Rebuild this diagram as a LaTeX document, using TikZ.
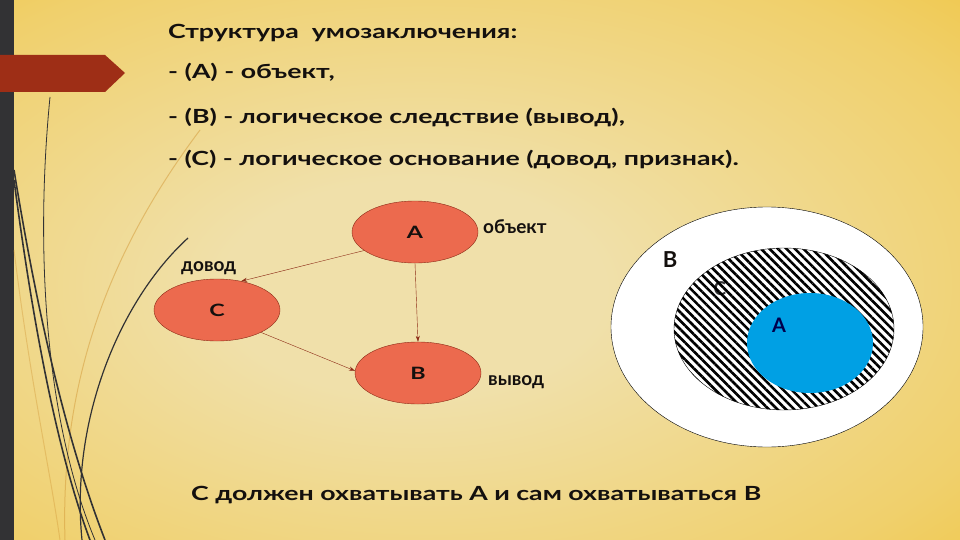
\documentclass[tikz,border=0pt]{standalone}
\usepackage{fontspec}
\setmainfont{Lato}
\newfontfamily\gothic[FakeStretch=1.37]{Lato}
\usetikzlibrary{shapes.geometric,arrows.meta,patterns.meta}
\definecolor{gold}{RGB}{240,192,46}
\definecolor{cream}{RGB}{240,224,170}
\definecolor{strip}{RGB}{50,50,52}
\definecolor{banner}{RGB}{158,46,22}
\definecolor{coral}{RGB}{236,106,78}
\definecolor{edge}{RGB}{140,42,22}
\definecolor{sky}{RGB}{0,160,228}
\definecolor{ink}{RGB}{20,16,14}
\pgfdeclareradialshading{glow}{\pgfpoint{-4bp}{-2bp}}{color(0bp)=(cream); color(10bp)=(cream);
  color(32bp)=(gold!50!cream); color(47bp)=(gold); color(80bp)=(gold)}
\begin{document}
\begin{tikzpicture}[x=1pt,y=-1pt,
    oval/.style={ellipse,draw=edge,fill=coral,minimum width=126pt,minimum height=62pt,
      font=\gothic\fontsize{17}{17}\selectfont\bfseries,text=ink},
    link/.style={draw=edge,-{Stealth[length=6pt,width=4pt]}},
    line/.style={anchor=base west,inner sep=0pt,font=\gothic\fontsize{19.5}{19.5}\selectfont\bfseries,text=ink},
    note/.style={anchor=base west,inner sep=0pt,font=\fontsize{19}{19}\selectfont\bfseries,text=ink},
    tag/.style={inner sep=0pt,font=\fontsize{22}{22}\selectfont\bfseries,text=ink}]
  % background
  \useasboundingbox (0,0) rectangle (960,540);
  \shade[shading=glow] (0,0) rectangle (960,540);
  \fill[strip] (0,0) rectangle (14,540);
  \fill[banner] (0,55) -- (105,55) -- (125,73) -- (105,92) -- (0,92) -- cycle;
  % swooshes
  \draw[brown!60!gold,line width=1pt,opacity=.5] (200,130) .. controls (110,250) and (60,380) .. (65,540);
  \draw[brown!60!gold,line width=1pt,opacity=.4] (14,250) .. controls (30,380) and (50,470) .. (60,540);
  \draw[strip,line width=0.8pt] (50,97) .. controls (35,250) and (45,420) .. (95,540);
  \draw[strip,line width=1.6pt] (14,170) .. controls (40,330) and (70,450) .. (105,540);
  \draw[strip,line width=1.6pt] (14,180) .. controls (35,340) and (60,460) .. (90,540);
  \draw[strip,line width=1.2pt] (188,238) .. controls (120,300) and (70,420) .. (82,540);
  % text
  \node[line] (title) at (168,39) {Структура~ умозаключения:};
  \node[line] (itemA) at (168,79) {- (А) - объект,};
  \node[line] (itemB) at (168,124) {- (В) - логическое следствие (вывод),};
  \node[line] (itemC) at (168,166) {- (С) - логическое основание (довод, признак).};
  % scheme
  \node[oval] (A) at (415,232) {А};
  \node[oval] (C) at (217,310) {С};
  \node[oval] (B) at (418,373) {В};
  \node[note] (objA) at (483,233) {объект};
  \node[note] (objC) at (181,271) {довод};
  \node[note] (objB) at (488,385) {вывод};
  \draw[link] (A.200) -- (C.50);
  \draw[link] (A.south) -- (B.north);
  \draw[link] (C.-27) -- (B.178);
  % circles
  \filldraw[fill=white,draw=black,thin] (767,327) ellipse [x radius=156,y radius=120];
  \node[tag,font=\fontsize{19}{19}\selectfont\bfseries,text=strip] (setC) at (720,289) {С};
  \draw[pattern={Lines[angle=-45,distance=6pt,line width=2.6pt]},pattern color=black,thin]
    (784,329) ellipse [x radius=110,y radius=81];
  \fill[sky] (810,343) ellipse [x radius=63,y radius=50];
  \node[tag] (setB) at (670,260) {В};
  \node[tag,font=\fontsize{20}{20}\selectfont\bfseries,text=blue!30!black] (setA) at (779,325) {А};
  \node[line] (summary) at (191,500) {С должен охватывать А и сам охватываться В};
\end{tikzpicture}
\end{document}
